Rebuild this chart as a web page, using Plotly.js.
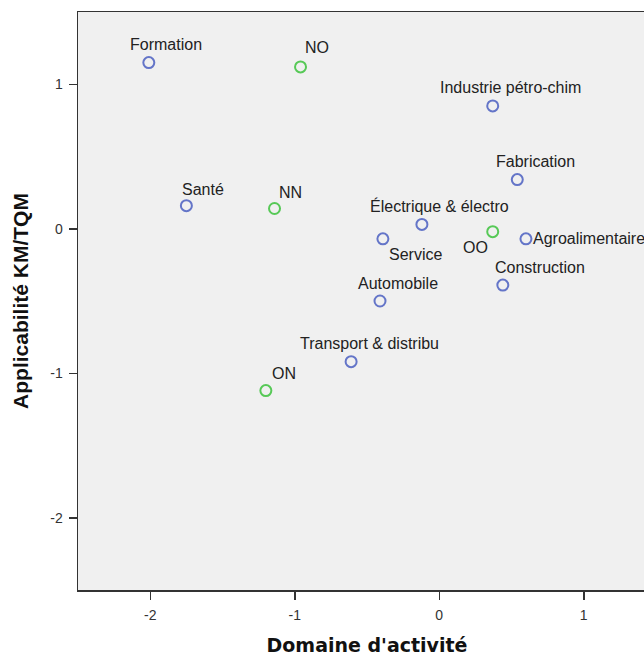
<!DOCTYPE html>
<html>
<head>
<meta charset="utf-8">
<script src="https://cdn.plot.ly/plotly-3.0.1.min.js"></script>
<style>
  html, body { margin: 0; padding: 0; background: #fff; overflow: hidden; width: 644px; height: 659px; }
  #chart { width: 680px; height: 659px; }
</style>
</head>
<body>
<div id="chart"></div>
<script>
// Sectors (blue)
const sectorNames = ["Formation", "Santé", "Industrie pétro-chim", "Fabrication", "Électrique & électro",
                     "Service", "Agroalimentaire", "Construction", "Automobile", "Transport & distribu"];
const sectorX = [-2.01, -1.75, 0.37, 0.54, -0.12, -0.39, 0.60, 0.44, -0.41, -0.61];
const sectorY = [1.15, 0.16, 0.85, 0.34, 0.03, -0.07, -0.07, -0.39, -0.50, -0.92];

// Groups (green)
const groupNames = ["NO", "NN", "OO", "ON"];
const groupX = [-0.96, -1.14, 0.37, -1.20];
const groupY = [1.12, 0.14, -0.02, -1.12];

// Tick values
const xTicks = [-2, -1, 0, 1];
const yTicks = [-2, -1, 0, 1];

// Label placement (pixel offsets), keyed by name
const labelPos = {
  "Formation": [17, 18, "center"],
  "Santé": [17, 16, "center"],
  "Industrie pétro-chim": [18, 18, "center"],
  "Fabrication": [18, 18, "center"],
  "Électrique & électro": [18, 18, "center"],
  "Service": [33, -16, "center"],
  "Agroalimentaire": [5, 0, "left"],
  "Construction": [37, 18, "center"],
  "Automobile": [18, 18, "center"],
  "Transport & distribu": [18, 18, "center"],
  "NO": [16, 19, "center"],
  "NN": [16, 16, "center"],
  "OO": [-17, -16, "center"],
  "ON": [18, 17, "center"]
};

const markerBase = { symbol: "circle-open", size: 11 };

const traces = [
  {
    type: "scatter", mode: "markers", x: sectorX, y: sectorY, text: sectorNames,
    marker: Object.assign({}, markerBase, { color: "#6475c8", line: { width: 2, color: "#6475c8" } }),
    hoverinfo: "text", showlegend: false
  },
  {
    type: "scatter", mode: "markers", x: groupX, y: groupY, text: groupNames,
    marker: Object.assign({}, markerBase, { color: "#57c957", line: { width: 2, color: "#57c957" } }),
    hoverinfo: "text", showlegend: false
  }
];

const annotations = [];
function addLabels(names, xs, ys) {
  names.forEach((n, i) => {
    const p = labelPos[n];
    annotations.push({
      x: xs[i], y: ys[i], xref: "x", yref: "y", text: n, showarrow: false,
      xanchor: p[2], yanchor: "middle", xshift: p[0], yshift: p[1],
      font: { family: "Arial, Liberation Sans, sans-serif", size: 16, color: "#222" }
    });
  });
}
addLabels(sectorNames, sectorX, sectorY);
addLabels(groupNames, groupX, groupY);

const layout = {
  width: 680, height: 659,
  margin: { l: 78, r: 24, t: 12, b: 69 },
  paper_bgcolor: "#ffffff",
  plot_bgcolor: "#f0f0f0",
  showlegend: false,
  xaxis: {
    range: [-2.5, 1.5], tickvals: xTicks, ticktext: xTicks.map(String),
    showgrid: false, zeroline: false, showline: true, mirror: true,
    linecolor: "#333", linewidth: 1.5,
    ticks: "outside", ticklen: 8, tickwidth: 1.5, tickcolor: "#333",
    ticklabelstandoff: 4,
    tickfont: { family: "Arial, Liberation Sans, sans-serif", size: 14, color: "#333" },
    title: { text: "Domaine d'activité", standoff: 16,
             font: { family: "DejaVu Sans, sans-serif", size: 19, color: "#111", weight: "bold" } }
  },
  yaxis: {
    range: [-2.5, 1.5], tickvals: yTicks, ticktext: yTicks.map(String),
    showgrid: false, zeroline: false, showline: true, mirror: true,
    linecolor: "#333", linewidth: 1.5,
    ticks: "outside", ticklen: 8, tickwidth: 1.5, tickcolor: "#333",
    ticklabelstandoff: 3,
    tickfont: { family: "Arial, Liberation Sans, sans-serif", size: 14, color: "#333" },
    title: { text: "Applicabilité KM/TQM", standoff: 16,
             font: { family: "Arial, Liberation Sans, sans-serif", size: 21, color: "#111", weight: "bold" } }
  },
  annotations: annotations
};

Plotly.newPlot("chart", traces, layout, { displayModeBar: false, staticPlot: true });
</script>
</body>
</html>
